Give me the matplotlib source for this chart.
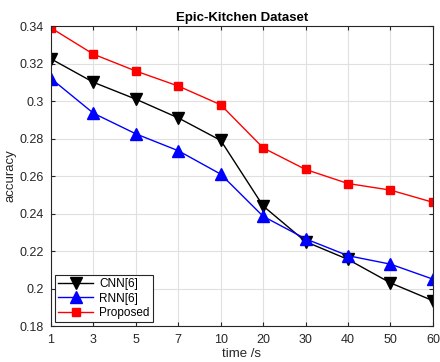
import matplotlib
matplotlib.use("Agg")
import matplotlib.pyplot as plt

times = ["1", "3", "5", "7", "10", "20", "30", "40", "50", "60"]
cnn = [0.3225, 0.310, 0.301, 0.291, 0.279, 0.244, 0.225, 0.2155, 0.203, 0.1935]
rnn = [0.312, 0.2935, 0.2825, 0.2735, 0.261, 0.2385, 0.2265, 0.2175, 0.213, 0.205]
proposed = [0.339, 0.325, 0.316, 0.308, 0.298, 0.275, 0.2635, 0.256, 0.2525, 0.246]
yticks = [0.18, 0.2, 0.22, 0.24, 0.26, 0.28, 0.3, 0.32, 0.34]
ytick_labels = ["0.18", "0.2", "0.22", "0.24", "0.26", "0.28", "0.3", "0.32", "0.34"]

plt.rcParams['font.family'] = ['Liberation Sans', 'DejaVu Sans']
fig = plt.figure(figsize=(4.4, 3.62), dpi=100)
ax = fig.add_axes([0.1159, 0.0994, 0.868, 0.8286])
x = list(range(len(times)))
ax.plot(x, cnn, color='black', marker='v', markersize=8, lw=1, label='CNN[6]')
ax.plot(x, rnn, color='blue', marker='^', markersize=8, lw=1, label='RNN[6]')
ax.plot(x, proposed, color='red', marker='s', markersize=5.5, lw=1, label='Proposed')
ax.set_xlim(0, len(times) - 1)
ax.set_ylim(0.18, 0.34)
ax.set_xticks(x)
ax.set_xticklabels(times)
ax.set_yticks(yticks)
ax.set_yticklabels(ytick_labels)
ax.grid(True, color='#e0e0e0', lw=0.8)
ax.set_axisbelow(True)
ax.tick_params(direction='in', top=True, right=True, labelsize=9, colors='#262626', length=3, pad=5)
ax.tick_params(axis='x', pad=6)
for s in ax.spines.values():
    s.set_color('#262626')
    s.set_linewidth(0.8)
ax.set_xlabel('time /s', fontsize=9.5, color='#262626', labelpad=1)
ax.set_ylabel('accuracy', fontsize=9.5, color='#262626', labelpad=2)
ax.set_title('Epic-Kitchen Dataset', fontsize=9.5, fontweight='bold', pad=4)
leg = ax.legend(loc='lower left', fontsize=8.5, fancybox=False, edgecolor='#262626',
                framealpha=1, borderaxespad=0.3, handlelength=3.0, labelspacing=0.2,
                handletextpad=0.5, borderpad=0.3)
leg.get_frame().set_linewidth(0.8)
fig.savefig('out.png', dpi=100)
